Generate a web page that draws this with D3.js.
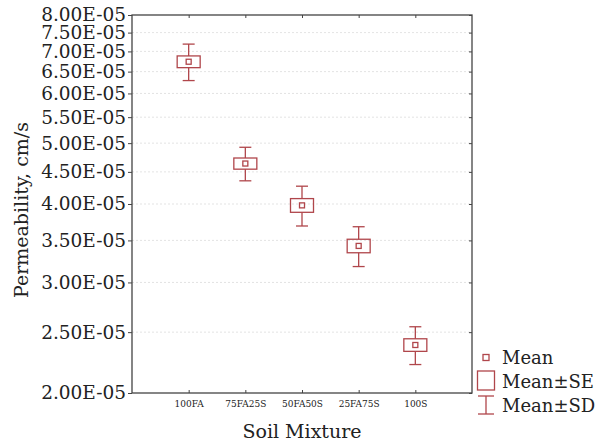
<!DOCTYPE html>
<html>
<head>
<meta charset="utf-8">
<script src="https://cdn.jsdelivr.net/npm/d3@7"></script>
<style>
  body { margin: 0; background: #fff; }
  svg text { font-family: "DejaVu Serif", serif; fill: #222; }
</style>
</head>
<body>
<div id="plot"></div>
<script>
// Permeability by soil mixture: mean, standard error, standard deviation (cm/s)
const mixtures = ['100FA', '75FA25S', '50FA50S', '25FA75S', '100S'];
const means = [6.74e-5, 4.64e-5, 3.98e-5, 3.43e-5, 2.385e-5];
const stdErrors = [0.145e-5, 0.095e-5, 0.10e-5, 0.085e-5, 0.055e-5];
const stdDevs = [0.45e-5, 0.285e-5, 0.29e-5, 0.25e-5, 0.165e-5];
const yTicks = [2e-5, 2.5e-5, 3e-5, 3.5e-5, 4e-5, 4.5e-5, 5e-5, 5.5e-5, 6e-5, 6.5e-5, 7e-5, 7.5e-5, 8e-5];

const width = 601, height = 442;
const margin = {top: 15, right: 129, bottom: 49, left: 132};
const innerW = width - margin.left - margin.right;
const innerH = height - margin.top - margin.bottom;
const color = '#b0464b';

const svg = d3.select('#plot').append('svg')
    .attr('width', width)
    .attr('height', height);

const g = svg.append('g').attr('transform', `translate(${margin.left},${margin.top})`);

const x = d3.scalePoint().domain(mixtures).range([0, innerW]).padding(1);
const y = d3.scaleLog().domain([2e-5, 8e-5]).range([innerH, 0]);

const fmt = v => v.toExponential(2).toUpperCase().replace(/E([+-])(\d)$/, 'E$10$2');

// grid
g.selectAll('.grid')
    .data(yTicks.slice(1, -1))
    .enter().append('line')
    .attr('x1', 0).attr('x2', innerW)
    .attr('y1', d => y(d)).attr('y2', d => y(d))
    .attr('stroke', '#dcdcdc')
    .attr('stroke-width', 0.8)
    .attr('stroke-dasharray', '2,2');

// axes
const leftAxis = g.append('g')
    .call(d3.axisLeft(y).tickValues(yTicks).tickFormat(fmt).tickSize(4).tickPadding(2).tickSizeOuter(0));
leftAxis.selectAll('text').attr('font-size', '18.5px');

g.append('g').attr('transform', `translate(${innerW},0)`)
    .call(d3.axisLeft(y).tickValues(yTicks).tickFormat('').tickSize(3).tickSizeOuter(0));

g.append('g')
    .call(d3.axisBottom(x).tickFormat('').tickSize(3).tickSizeOuter(0));

const bottomAxis = g.append('g').attr('transform', `translate(0,${innerH})`)
    .call(d3.axisBottom(x).tickSize(-3).tickPadding(8).tickSizeOuter(0));
bottomAxis.selectAll('text').attr('font-size', '9px');

svg.selectAll('.domain').remove();
svg.selectAll('.tick line').attr('stroke', '#444').attr('stroke-width', 1);

// frame
g.append('rect')
    .attr('width', innerW).attr('height', innerH)
    .attr('fill', 'none')
    .attr('stroke', '#444')
    .attr('stroke-width', 1.3);

// boxes
const boxW = 23, capW = 12, meanS = 5;
mixtures.forEach((m, i) => {
    const cx = x(m);
    const grp = g.append('g').attr('stroke', color).attr('stroke-width', 1.3).attr('fill', 'none');
    const sdTop = y(means[i] + stdDevs[i]), sdBot = y(means[i] - stdDevs[i]);
    const seTop = y(means[i] + stdErrors[i]), seBot = y(means[i] - stdErrors[i]);
    grp.append('line').attr('x1', cx).attr('x2', cx).attr('y1', sdTop).attr('y2', seTop);
    grp.append('line').attr('x1', cx).attr('x2', cx).attr('y1', seBot).attr('y2', sdBot);
    grp.append('line').attr('x1', cx - capW / 2).attr('x2', cx + capW / 2).attr('y1', sdTop).attr('y2', sdTop);
    grp.append('line').attr('x1', cx - capW / 2).attr('x2', cx + capW / 2).attr('y1', sdBot).attr('y2', sdBot);
    grp.append('rect').attr('x', cx - boxW / 2).attr('y', seTop)
        .attr('width', boxW).attr('height', seBot - seTop);
    grp.append('rect').attr('x', cx - meanS / 2).attr('y', y(means[i]) - meanS / 2)
        .attr('width', meanS).attr('height', meanS);
});

// axis titles
svg.append('text')
    .attr('transform', `translate(28,${margin.top + innerH / 2 + 6}) rotate(-90)`)
    .attr('text-anchor', 'middle')
    .attr('font-size', '19px')
    .text('Permeability, cm/s');

svg.append('text')
    .attr('x', margin.left + innerW / 2)
    .attr('y', 438)
    .attr('text-anchor', 'middle')
    .attr('font-size', '19px')
    .text('Soil Mixture');

// legend
const lg = svg.append('g').attr('transform', 'translate(486,0)');
const ls = lg.append('g').attr('stroke', color).attr('stroke-width', 1.3).attr('fill', 'none');
ls.append('rect').attr('x', -3).attr('y', 354.5).attr('width', 6).attr('height', 6);
ls.append('rect').attr('x', -8.5).attr('y', 371).attr('width', 17).attr('height', 19);
ls.append('line').attr('x1', -8).attr('x2', 8).attr('y1', 396).attr('y2', 396);
ls.append('line').attr('x1', -8).attr('x2', 8).attr('y1', 414).attr('y2', 414);
ls.append('line').attr('x1', 0).attr('x2', 0).attr('y1', 396).attr('y2', 414);

const legendText = ['Mean', 'Mean\u00B1SE', 'Mean\u00B1SD'];
lg.selectAll('.lt').data(legendText).enter().append('text')
    .attr('x', 16)
    .attr('y', (d, i) => 364 + i * 23.8)
    .attr('font-size', '18px')
    .text(d => d);
</script>
</body>
</html>
